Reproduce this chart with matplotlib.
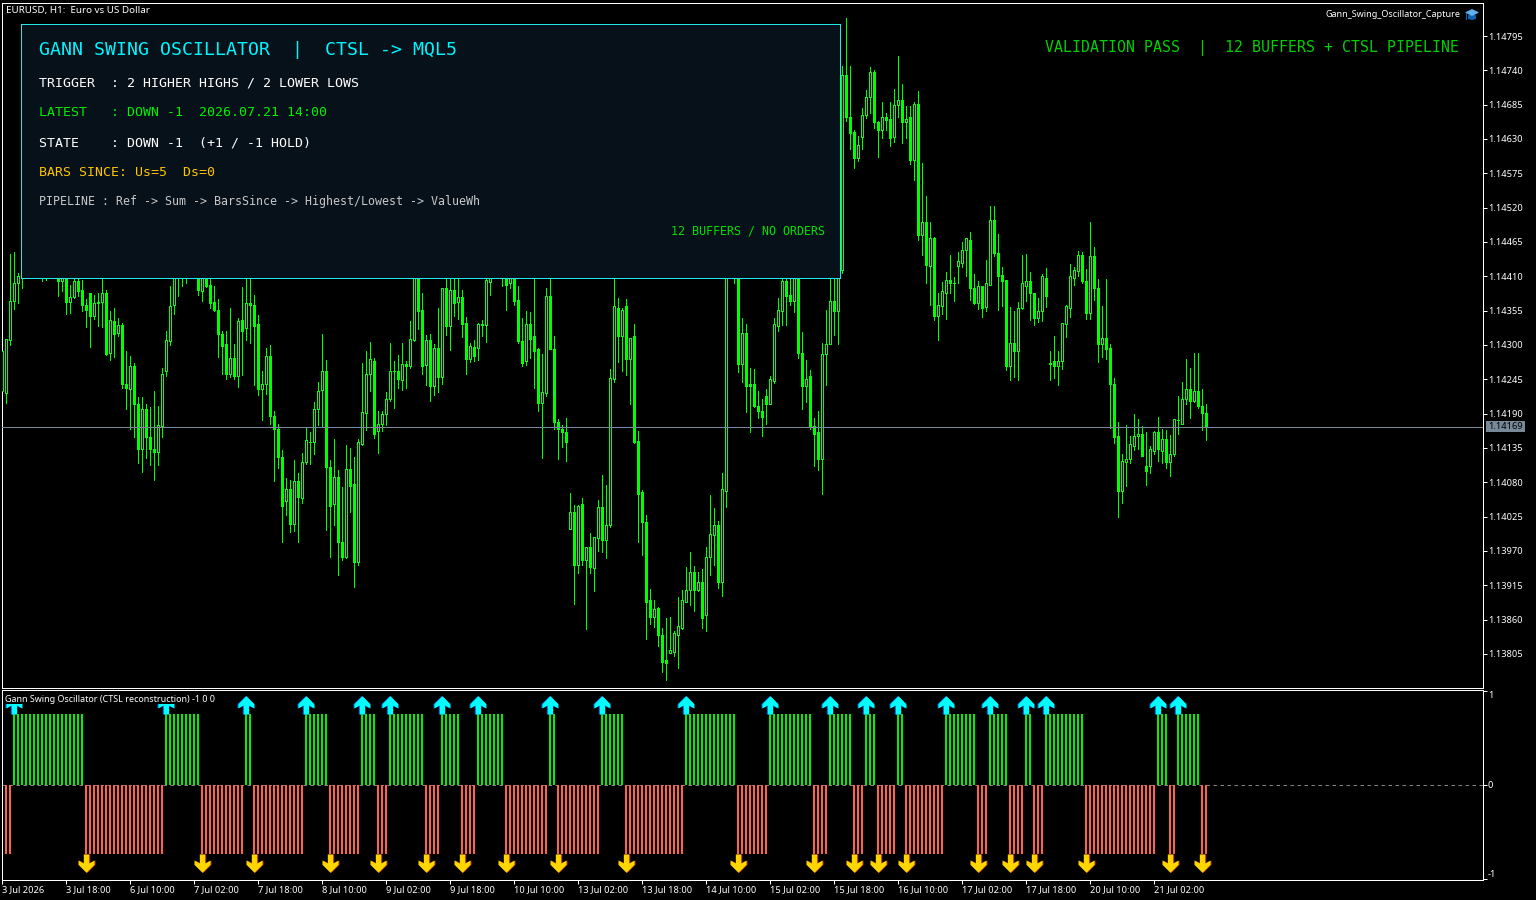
import numpy as np
import matplotlib
matplotlib.use("Agg")
import matplotlib.pyplot as plt
from matplotlib.patches import Rectangle, Polygon
from matplotlib.path import Path
from matplotlib.transforms import Affine2D

# quotes in points above 1.13000, first bar is index -1
BASE_PRICE = 1.13
open_pts = [
1225,1223,1307,1369,1399,1425,1440,1465,1450,1460,
1440,1420,1440,1430,1425,1402,1430,1368,1376,1402,
1388,1364,1383,1345,1366,1368,1383,1286,1338,1319,
1331,1237,1229,1266,1205,1132,1197,1152,1133,1127,
1170,1257,1305,1363,1430,1412,1430,1415,1425,1440,
1385,1430,1396,1368,1355,1317,1301,1252,1279,1249,
1340,1327,1366,1363,1332,1229,1236,1282,1185,1165,
1120,1050,1068,1013,1082,1054,1111,1144,1144,1196,
1227,1258,1104,1044,1087,983,959,1100,1076,951,
1140,1191,1252,1274,1162,1172,1188,1212,1258,1258,
1243,1269,1266,1307,1430,1356,1267,1307,1233,1295,
1248,1391,1329,1387,1368,1376,1335,1276,1296,1295,
1333,1331,1400,1412,1430,1425,1425,1399,1425,1372,
1306,1273,1333,1313,1292,1207,1223,1378,1293,1176,
1164,1159,1005,1031,947,1045,955,975,942,990,
1039,987,1010,1245,1359,1314,1361,1276,1314,1146,
1063,1016,890,863,877,835,794,806,808,835,
846,888,906,936,906,920,866,959,995,1011,
919,1066,1425,1445,1430,1269,1319,1236,1236,1202,
1194,1218,1205,1242,1330,1354,1402,1380,1370,1420,
1287,1234,1250,1170,1159,1117,1284,1301,1370,1354,
1420,1732,1664,1640,1598,1632,1667,1696,1737,1657,
1644,1665,1662,1632,1683,1691,1656,1664,1595,1686,
1476,1497,1425,1470,1346,1362,1383,1404,1399,1426,
1431,1452,1468,1391,1367,1393,1360,1396,1499,1447,
1412,1404,1266,1302,1289,1358,1394,1401,1383,1342,
1353,1407,1271,1273,1265,1273,1332,1359,1407,1418,
1444,1402,1351,1441,1390,1300,1310,1294,1237,1153,
1066,1111,1116,1138,1153,1157,1105,1106,1130,1159,
1130,1148,1111,1124,1179,1173,1212,1229,1209,1225,
1202,1191]
high_pts = [
1289,1309,1446,1449,1415,1450,1480,1490,1475,1480,
1470,1460,1465,1455,1445,1450,1445,1396,1412,1412,
1404,1374,1383,1380,1383,1415,1388,1354,1359,1343,
1335,1290,1282,1271,1217,1217,1205,1201,1226,1202,
1263,1322,1394,1445,1450,1450,1445,1445,1465,1450,
1445,1445,1410,1394,1374,1322,1322,1359,1301,1343,
1393,1412,1412,1380,1348,1258,1295,1300,1194,1173,
1132,1087,1084,1116,1095,1127,1167,1160,1209,1241,
1317,1276,1116,1149,1100,1072,1140,1135,1120,1149,
1271,1290,1305,1279,1194,1194,1225,1303,1274,1284,
1303,1274,1338,1445,1445,1383,1316,1317,1301,1359,
1392,1415,1406,1412,1412,1388,1345,1303,1308,1335,
1340,1415,1430,1450,1450,1445,1440,1440,1440,1394,
1343,1354,1353,1412,1295,1285,1391,1412,1314,1181,
1172,1183,1063,1044,1044,1055,975,999,991,1052,
1092,1076,1261,1412,1375,1359,1374,1311,1333,1162,
1068,1028,909,891,880,846,863,864,842,896,
907,944,968,946,936,941,976,1060,1039,1018,
1095,1445,1470,1470,1445,1343,1333,1263,1261,1226,
1213,1229,1250,1343,1375,1412,1412,1412,1412,1430,
1321,1276,1260,1183,1194,1303,1356,1412,1412,1440,
1747,1824,1747,1644,1635,1680,1708,1745,1740,1659,
1689,1672,1689,1710,1763,1718,1683,1683,1689,1707,
1591,1539,1497,1473,1383,1401,1417,1444,1409,1449,
1465,1470,1481,1414,1402,1394,1436,1523,1523,1478,
1425,1404,1361,1354,1369,1444,1446,1417,1383,1375,
1414,1423,1290,1314,1290,1335,1364,1430,1425,1451,
1449,1422,1497,1457,1406,1362,1406,1302,1247,1177,
1125,1172,1154,1189,1181,1170,1161,1138,1162,1185,
1165,1164,1156,1181,1218,1241,1278,1263,1287,1287,
1229,1205]
low_pts = [
1225,1207,1300,1358,1368,1392,1420,1430,1425,1430,
1402,1404,1415,1415,1378,1387,1350,1352,1376,1378,
1355,1329,1297,1341,1331,1328,1284,1276,1280,1315,
1231,1197,1165,1153,1111,1097,1119,1107,1084,1108,
1153,1250,1300,1350,1378,1395,1400,1412,1415,1380,
1370,1393,1360,1355,1281,1253,1246,1249,1246,1233,
1252,1308,1303,1236,1220,1180,1221,1173,1082,1103,
984,1028,1000,1002,984,1047,1110,1109,1125,1171,
1170,1003,960,1011,931,955,959,1032,912,947,
1140,1164,1226,1151,1127,1162,1171,1210,1199,1231,
1228,1231,1263,1307,1325,1253,1236,1211,1220,1225,
1238,1316,1292,1346,1341,1313,1253,1273,1274,1276,
1314,1305,1380,1412,1412,1395,1356,1391,1364,1303,
1266,1268,1279,1231,1194,1119,1218,1293,1165,1117,
1136,1114,1005,885,935,947,845,935,906,970,
968,959,1008,1241,1273,1258,1252,1205,1143,984,
963,829,853,848,818,776,763,806,802,782,
845,888,883,874,906,846,842,931,947,911,
898,1040,1415,1399,1257,1241,1193,1160,1201,1183,
1154,1173,1205,1239,1322,1332,1332,1364,1353,1279,
1197,1209,1165,1106,1100,1061,1236,1301,1316,1301,
1415,1659,1614,1584,1595,1614,1664,1672,1648,1601,
1632,1644,1619,1625,1665,1624,1632,1590,1564,1468,
1444,1399,1364,1340,1308,1350,1342,1383,1370,1399,
1425,1410,1372,1366,1358,1345,1354,1396,1443,1356,
1362,1260,1244,1249,1244,1358,1370,1340,1332,1337,
1338,1361,1244,1247,1236,1262,1313,1345,1396,1410,
1399,1342,1342,1372,1273,1281,1278,1167,1143,1024,
1047,1074,1111,1132,1133,1122,1076,1095,1125,1114,
1111,1103,1090,1122,1157,1173,1205,1183,1209,1199,
1164,1148]
close_pts = [
1289,1308,1370,1399,1410,1440,1465,1450,1460,1440,
1420,1440,1430,1425,1402,1430,1368,1376,1402,1386,
1363,1355,1345,1367,1368,1383,1285,1339,1317,1331,
1236,1231,1266,1205,1132,1197,1151,1132,1127,1171,
1253,1307,1362,1425,1412,1430,1415,1425,1440,1387,
1430,1393,1366,1355,1316,1298,1252,1278,1250,1338,
1322,1366,1363,1330,1228,1237,1282,1185,1165,1119,
1042,1068,1013,1082,1055,1112,1147,1144,1196,1225,
1257,1103,1042,1087,983,960,1100,1074,952,1143,
1192,1253,1277,1157,1173,1189,1213,1258,1258,1244,
1269,1266,1308,1425,1354,1265,1307,1233,1295,1248,
1391,1329,1387,1366,1376,1333,1276,1298,1281,1333,
1331,1403,1412,1430,1420,1412,1396,1425,1370,1305,
1271,1333,1308,1290,1207,1224,1378,1293,1175,1164,
1159,1143,1031,947,1042,955,975,943,991,1039,
986,1010,1247,1361,1314,1356,1276,1311,1144,1061,
1015,887,863,876,835,792,789,811,837,849,
890,907,936,906,920,861,960,997,1011,919,
1068,1425,1445,1425,1269,1319,1233,1233,1201,1193,
1183,1205,1245,1332,1356,1402,1378,1369,1406,1287,
1233,1245,1168,1157,1117,1285,1301,1369,1353,1425,
1732,1665,1638,1598,1619,1668,1697,1737,1656,1644,
1665,1660,1631,1684,1691,1656,1662,1596,1686,1475,
1497,1428,1470,1346,1364,1385,1404,1398,1399,1433,
1452,1470,1390,1367,1393,1359,1398,1499,1446,1410,
1402,1266,1302,1289,1359,1398,1401,1382,1342,1354,
1409,1377,1269,1265,1274,1335,1361,1409,1420,1444,
1401,1351,1441,1390,1300,1310,1292,1236,1151,1066,
1114,1117,1140,1154,1157,1122,1098,1132,1159,1132,
1148,1111,1125,1181,1179,1213,1229,1209,1226,1201,
1191,1169]

# oscillator state as (state, number of bars), starting at bar 0
swing_runs = [
(-1,2),(1,18),(-1,20),(1,9),(-1,11),(1,2),(-1,13),(1,6),(-1,8),(1,4),
(-1,3),(1,9),(-1,4),(1,5),(-1,4),(1,7),(-1,11),(1,2),(-1,11),(1,6),
(-1,15),(1,13),(-1,8),(1,11),(-1,4),(1,6),(-1,3),(1,3),(-1,5),(1,2),
(-1,10),(1,8),(-1,3),(1,5),(-1,4),(1,2),(-1,3),(1,10),(-1,18),(1,3),
(-1,2),(1,6),(-1,2)]
HIST_UP = 0.755
HIST_DOWN = 0.735

price_ticks = ["1.14795","1.14740","1.14685","1.14630","1.14575","1.14520","1.14465",
               "1.14410","1.14355","1.14300","1.14245","1.14190","1.14135","1.14080",
               "1.14025","1.13970","1.13915","1.13860","1.13805"]
time_labels = ["3 Jul 2026","3 Jul 18:00","6 Jul 10:00","7 Jul 02:00","7 Jul 18:00",
               "8 Jul 10:00","9 Jul 02:00","9 Jul 18:00","10 Jul 10:00","13 Jul 02:00",
               "13 Jul 18:00","14 Jul 10:00","15 Jul 02:00","15 Jul 18:00","16 Jul 10:00",
               "17 Jul 02:00","17 Jul 18:00","20 Jul 10:00","21 Jul 02:00"]
last_price = 1.14169

W, H = 1536, 900
UI = "Noto Sans"
MONO = "DejaVu Sans Mono"
LW = 0.72
GREEN = "#00FF00"
fig = plt.figure(figsize=(W/100, H/100), dpi=100, facecolor="black")
PX = Affine2D().scale(1/W, -1/H).translate(0, 1) + fig.transFigure

def axes_px(x0, y0, x1, y1):
    a = fig.add_axes([x0/W, 1-y1/H, (x1-x0)/W, (y1-y0)/H], facecolor="black")
    for s in a.spines.values():
        s.set_color("white"); s.set_linewidth(LW)
    a.tick_params(colors="white", width=LW, length=2.9)
    a.yaxis.tick_right()
    return a

# x scale: one bar is 4 px
L, R = 2, 1483
BAR0 = 6.1
xlim = ((L-BAR0)/4, (R-BAR0)/4)
price = lambda v: BASE_PRICE + np.asarray(v, float)/1e5

# ---- main chart
ax = axes_px(L, 3, R, 688)
ax.set_xlim(*xlim)
PIX_PRICE = 0.00055/34.33
y_to_price = lambda y: 1.14795 - (y-36)*PIX_PRICE
ax.set_ylim(y_to_price(688), y_to_price(3))
idx = np.arange(-1, len(open_pts)-1)
o, h, l, c = price(open_pts), price(high_pts), price(low_pts), price(close_pts)
top, bot = np.maximum(o, c), np.minimum(o, c)
ax.vlines(idx, l, h, color=GREEN, lw=LW, antialiased=False, zorder=2)
ax.bar(idx, top-bot+PIX_PRICE, bottom=bot-PIX_PRICE/2, width=0.75, color=GREEN,
       linewidth=0, antialiased=False, zorder=3)
hollow = (c > o) & (top-bot > 1.5*PIX_PRICE)
ax.bar(idx[hollow], (top-bot)[hollow]-PIX_PRICE, bottom=bot[hollow]+PIX_PRICE/2, width=0.25,
       color="black", linewidth=0, antialiased=False, zorder=4)
ax.axhline(last_price, color="#778899", lw=LW, zorder=5)
ax.set_xticks([])
ax.set_yticks([float(t) for t in price_ticks])
ax.set_yticklabels(price_ticks, fontsize=6.7, family=UI, color="white")
ax.tick_params(axis="y", pad=0.6)

# ---- oscillator
state = np.concatenate([np.full(n, s) for s, n in swing_runs])
bars = np.arange(len(state))
starts = np.cumsum([0]+[n for _, n in swing_runs[:-1]])[1:]
up = starts[state[starts] > 0]
dn = starts[state[starts] < 0]

osc = axes_px(L, 690, R, 880)
osc.set_xlim(*xlim)
osc.set_ylim((785-880)/94, (785-690)/94)
osc.plot([xlim[0], xlim[1]], [0, 0], color="#808080", lw=LW, ls=(0, (3.5, 3.5)), zorder=1)
pos = state > 0
osc.bar(bars[pos], np.full(pos.sum(), HIST_UP), width=0.5, color="#00F000", linewidth=0, antialiased=False, zorder=2)
osc.bar(bars[~pos], np.full((~pos).sum(), -HIST_DOWN), width=0.5, color="#FF6347", linewidth=0, antialiased=False, zorder=2)

def arrow_path(sign):
    pts = [(0, 1), (.437, .563), (.437, .328), (.146, .49), (.146, 0),
           (-.146, 0), (-.146, .49), (-.437, .328), (-.437, .563), (0, 1)]
    return Path([(x, sign*y) for x, y in pts], closed=True)
MS = 26.4
osc.plot(up-0.35, np.full(len(up), HIST_UP), ls="", marker=arrow_path(1), ms=MS, mfc="#0060C8", mew=0, zorder=3)
osc.plot(up, np.full(len(up), HIST_UP), ls="", marker=arrow_path(1), ms=MS, mfc="#00FFFF", mew=0, zorder=4)
osc.plot(dn+0.25, np.full(len(dn), -HIST_DOWN), ls="", marker=arrow_path(-1), ms=MS, mfc="#C03000", mew=0, zorder=3)
osc.plot(dn, np.full(len(dn), -HIST_DOWN), ls="", marker=arrow_path(-1), ms=MS, mfc="#FFD700", mew=0, zorder=4)

osc.set_yticks([1, 0, -1])
osc.set_yticklabels(["1", "0", "-1"], fontsize=6.7, family=UI, color="white")
ylabs = osc.get_yticklabels()
ylabs[0].set_va("top"); ylabs[2].set_va("bottom")
osc.tick_params(axis="y", pad=0.6)
tick_pos = -1 + 16*np.arange(len(time_labels))
osc.set_xticks(tick_pos)
osc.set_xticklabels(time_labels, fontsize=6.7, family=UI, color="white", ha="left")
osc.tick_params(axis="x", pad=0.9)

# ---- overlays in pixel coordinates
def rect(x0, y0, x1, y1, fc, ec="none", z=6, lw=LW):
    fig.add_artist(Rectangle((x0, y0), x1-x0, y1-y0, transform=PX, facecolor=fc, edgecolor=ec,
                             linewidth=lw, zorder=z, antialiased=False))
def text(x, y, s, size, color, family=MONO, ha="left", z=8):
    fig.text(x, y, s, transform=PX, fontsize=size, color=color, family=family,
             ha=ha, va="center", zorder=z)

rect(21, 24, 840, 278, "#07111A", "#20E8E8")
text(39, 50, "GANN SWING OSCILLATOR  |  CTSL -> MQL5", 13.15, "#00F5FF")
text(39, 83, "TRIGGER  : 2 HIGHER HIGHS / 2 LOWER LOWS", 9.57, "white")
text(39, 113, "LATEST   : DOWN -1  2026.07.21 14:00", 9.57, "#00F000")
text(39, 143, "STATE    : DOWN -1  (+1 / -1 HOLD)", 9.57, "white")
text(39, 173, "BARS SINCE: Us=5  Ds=0", 9.57, "#FFC400")
text(39, 201.5, "PIPELINE : Ref -> Sum -> BarsSince -> Highest/Lowest -> ValueWh", 8.37, "#C8C8C8")
text(825, 231.5, "12 BUFFERS / NO ORDERS", 8.37, "#00E000", ha="right")
text(1459, 48, "VALIDATION PASS  |  12 BUFFERS + CTSL PIPELINE", 10.76, "#00D000", ha="right")

text(5.5, 10, "EURUSD, H1:  Euro vs US Dollar", 7.05, "white", UI)
text(1461, 14.5, "Gann_Swing_Oscillator_Capture", 6.5, "white", UI, ha="right")
rect(3, 691, 216, 704, "black")
text(5, 699, "Gann Swing Oscillator (CTSL reconstruction) -1 0 0", 6.45, "white", UI)

# last price tag
rect(1486, 421, 1525, 432, "#778899")
text(1505.5, 426.5, "1.14169", 6.7, "black", UI, ha="center")

# graduation cap icon
fig.add_artist(Polygon([(1468, 15), (1476, 15), (1476, 19), (1472, 20), (1468, 19)], closed=True,
                       transform=PX, facecolor="#1060B0", zorder=7))
fig.add_artist(Polygon([(1465, 12.5), (1472, 9), (1479, 12.5), (1472, 16)], closed=True,
                       transform=PX, facecolor="#60B0F0", zorder=7))
rect(1465.5, 13, 1466.5, 20, "#1060B0", z=7)

fig.savefig("out.png", dpi=100, facecolor="black")
